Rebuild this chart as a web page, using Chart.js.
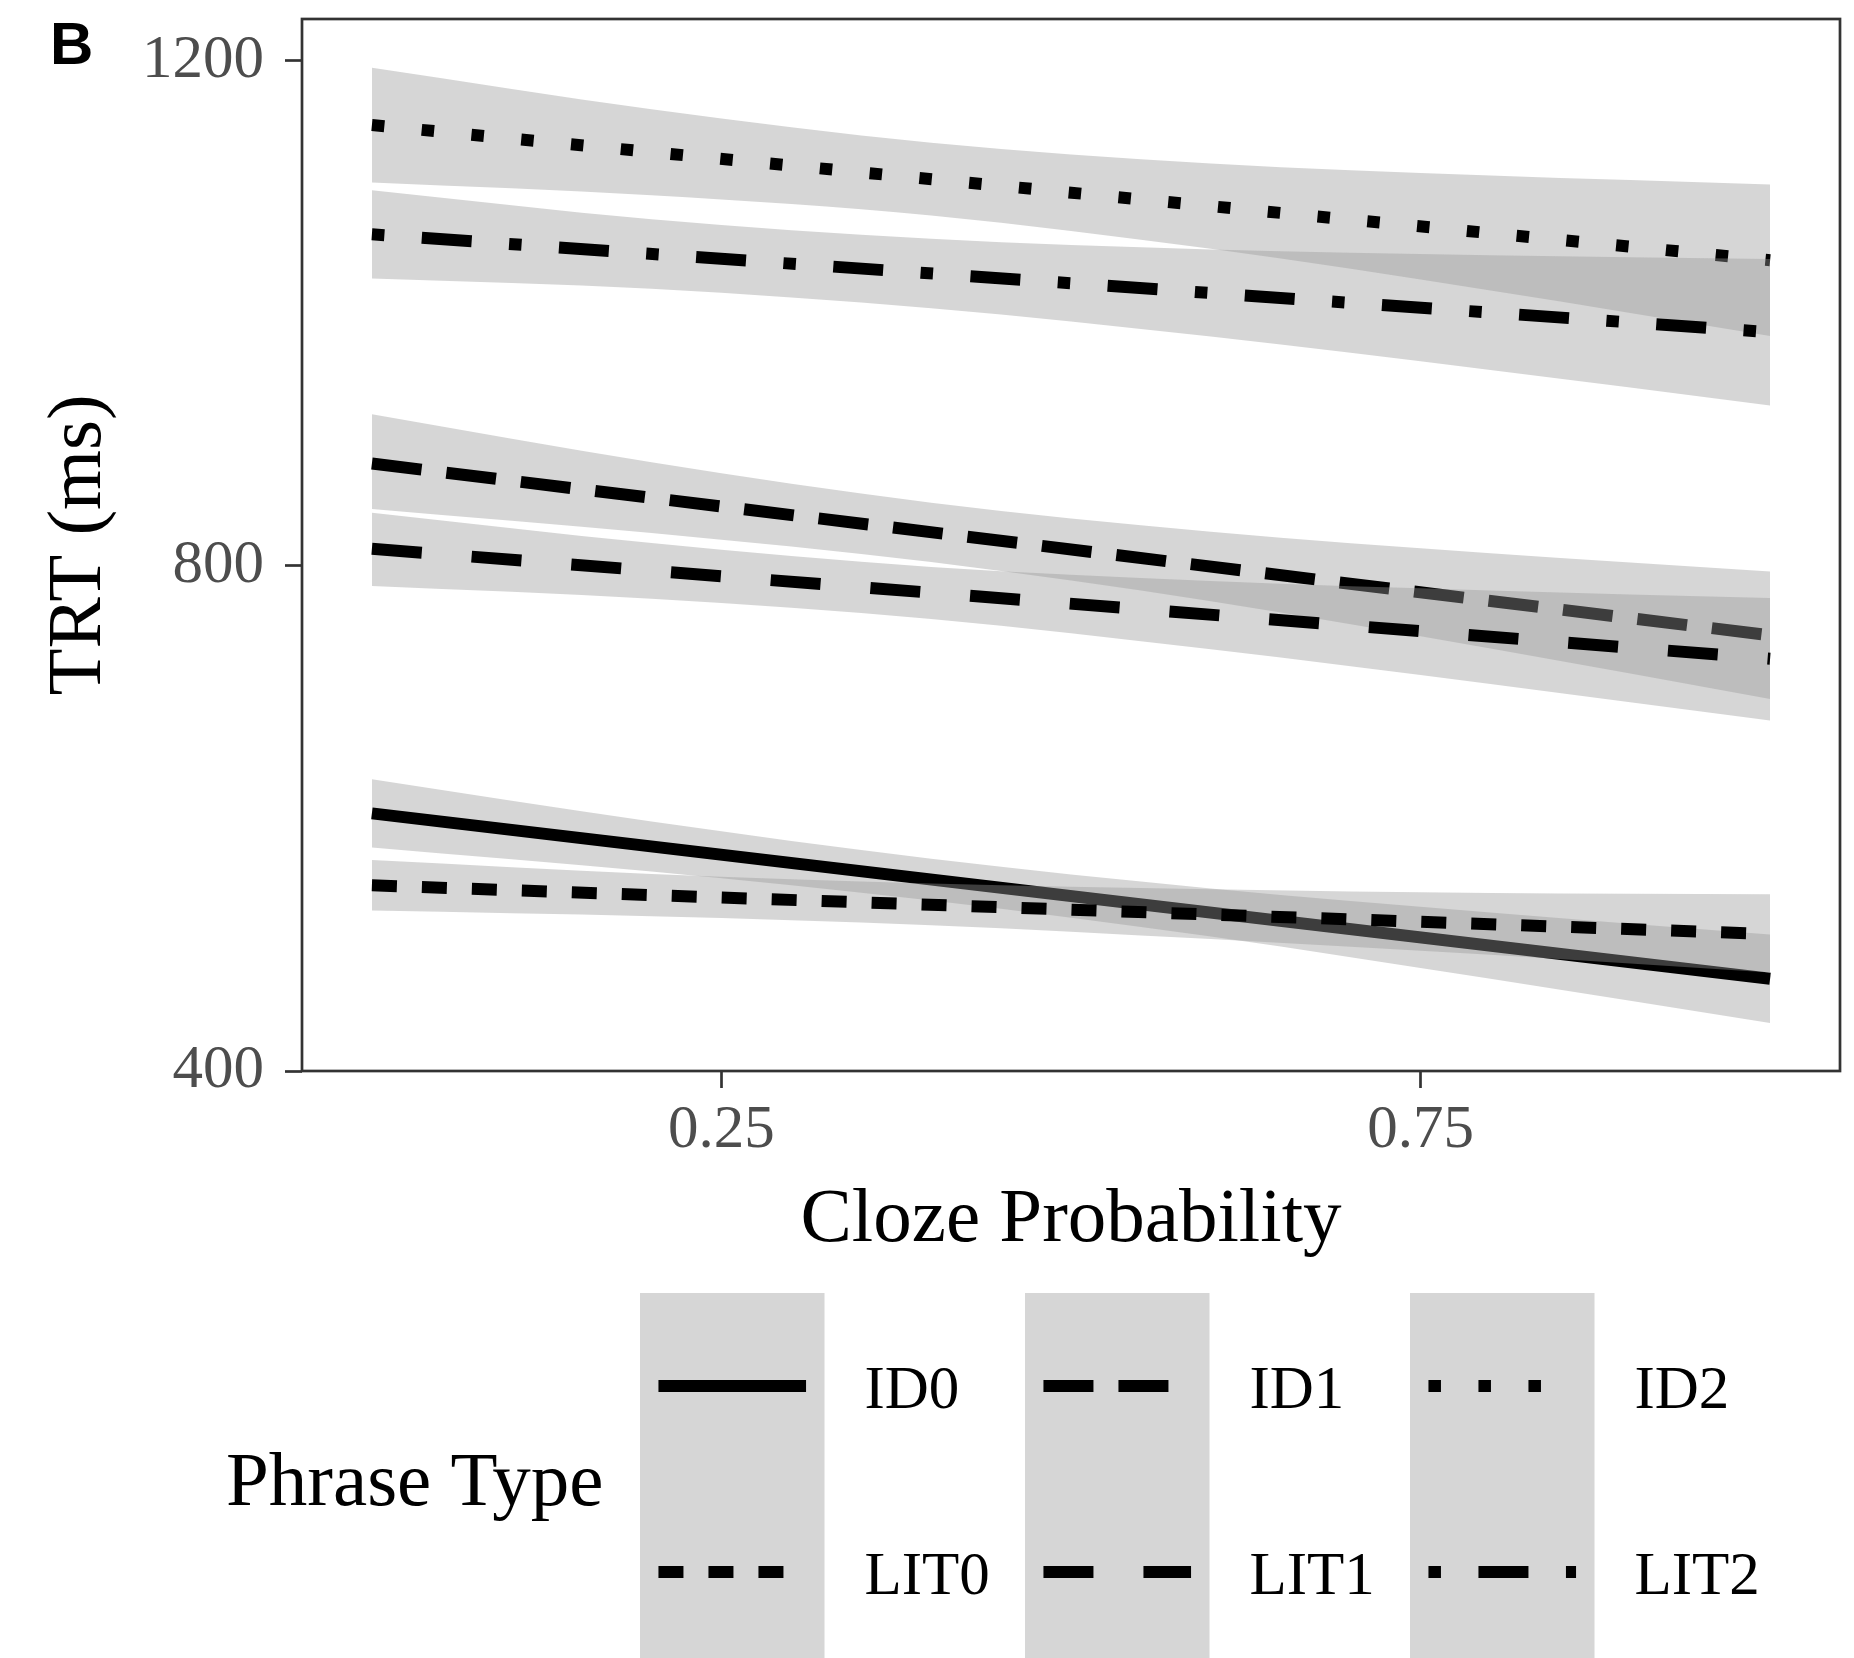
<!DOCTYPE html>
<html>
<head>
<meta charset="utf-8">
<script src="https://cdn.jsdelivr.net/npm/chart.js@4.4.1/dist/chart.umd.min.js"></script>
<style>
  html, body { margin: 0; padding: 0; background: #ffffff; }
  #wrap { width: 1854px; height: 1658px; position: relative; }
</style>
</head>
<body>
<div id="wrap"><canvas id="c" width="1854" height="1658"></canvas></div>
<script>
// ---------------- data ----------------
const groups = ['ID0', 'ID1', 'ID2', 'LIT0', 'LIT1', 'LIT2'];

// x positions of the confidence-band samples and of the fitted lines
const bandX = [0, 0.2, 0.4, 0.6, 0.8, 1];
const lineX = [0, 1];

// fitted lines (TRT in ms at cloze 0 and 1)
const fitID0 = [604, 473];
const fitID1 = [881, 745];
const fitID2 = [1149, 1042];
const fitLIT0 = [547, 508.5];
const fitLIT1 = [813.5, 726.5];
const fitLIT2 = [1062.5, 985];

// confidence bands
const upperID0 = [631, 597.5, 568, 544.5, 525.5, 508];
const lowerID0 = [577, 558, 535, 506.5, 473, 438];
const upperID1 = [920, 882, 850, 827, 810, 795.5];
const lowerID1 = [845, 826, 803, 772, 734.5, 694.5];
const upperID2 = [1194.5, 1161.5, 1135, 1118.5, 1109, 1102];
const lowerID2 = [1103.5, 1093.5, 1077.5, 1051, 1018, 982];
const upperLIT0 = [567, 556, 548.5, 544, 541, 540];
const lowerLIT0 = [527, 522.5, 515.5, 504.5, 492, 478];
const upperLIT1 = [842, 818, 799, 788, 780.5, 774.5];
const lowerLIT1 = [784, 774, 758, 734, 706.5, 677.5];
const upperLIT2 = [1097.5, 1074.5, 1059, 1050.5, 1046, 1043];
const lowerLIT2 = [1027.5, 1019.5, 1004, 981.5, 955, 927];

// axis ticks
const xTickValues = [0.25, 0.75];
const xTickLabels = ['0.25', '0.75'];
const yTickValues = [400, 800, 1200];
const yTickLabels = ['400', '800', '1200'];

// ---------------- styles ----------------
const U = 12.5; // ggplot dash unit (= line width)
const dashes = {
  ID0: [],
  ID1: [4 * U, 2 * U],
  ID2: [1 * U, 3 * U],
  LIT0: [2 * U, 2 * U],
  LIT1: [4 * U, 4 * U],
  LIT2: [1 * U, 3 * U, 4 * U, 3 * U]
};
const fits = { ID0: fitID0, ID1: fitID1, ID2: fitID2, LIT0: fitLIT0, LIT1: fitLIT1, LIT2: fitLIT2 };
const uppers = { ID0: upperID0, ID1: upperID1, ID2: upperID2, LIT0: upperLIT0, LIT1: upperLIT1, LIT2: upperLIT2 };
const lowers = { ID0: lowerID0, ID1: lowerID1, ID2: lowerID2, LIT0: lowerLIT0, LIT1: lowerLIT1, LIT2: lowerLIT2 };

const BAND = 'rgba(153,153,153,0.4)';
const SERIF = "'Liberation Serif', 'Times New Roman', serif";
const LW = 12;

const datasets = [];
groups.forEach(g => {
  datasets.push({
    label: g + ' lower',
    data: bandX.map((x, k) => ({ x: x, y: lowers[g][k] })),
    borderWidth: 0, borderColor: 'rgba(0,0,0,0)', backgroundColor: BAND,
    pointRadius: 0, fill: false, cubicInterpolationMode: 'monotone'
  });
  datasets.push({
    label: g + ' upper',
    data: bandX.map((x, k) => ({ x: x, y: uppers[g][k] })),
    borderWidth: 0, borderColor: 'rgba(0,0,0,0)', backgroundColor: BAND,
    pointRadius: 0, fill: '-1', cubicInterpolationMode: 'monotone'
  });
  datasets.push({
    label: g,
    data: lineX.map((x, k) => ({ x: x, y: fits[g][k] })),
    borderWidth: LW, borderColor: '#000000', borderDash: dashes[g],
    borderCapStyle: 'butt', pointRadius: 0, fill: false, tension: 0
  });
});
datasets.forEach((d, i) => { d.order = datasets.length - i; });

// ---------------- custom plugin: panel border, panel tag, legend ----------------
const decor = {
  id: 'decor',
  afterDraw(chart) {
    const ctx = chart.ctx;
    const a = chart.chartArea;
    ctx.save();
    // panel border
    ctx.strokeStyle = '#333333';
    ctx.lineWidth = 2.7;
    ctx.strokeRect(a.left, a.top, a.right - a.left, a.bottom - a.top);
    // panel tag
    ctx.fillStyle = '#000000';
    ctx.font = "bold 60px 'Liberation Sans', Arial, sans-serif";
    ctx.textAlign = 'left';
    ctx.textBaseline = 'alphabetic';
    ctx.fillText('B', 50, 64);
    // legend
    const keyLeft = 640, keyW = 184.5, colStep = 385, keyTop = 1293, keyH = 186;
    ctx.font = '77px ' + SERIF;
    ctx.fillText('Phrase Type', 226, 1505);
    ctx.font = '61px ' + SERIF;
    groups.forEach((g, i) => {
      const col = i % 3;
      const row = i < 3 ? 0 : 1;
      const x0 = keyLeft + col * colStep;
      const y0 = keyTop + row * keyH;
      ctx.fillStyle = BAND;
      ctx.fillRect(x0, y0, keyW, keyH);
      const ly = y0 + keyH / 2;
      const ds = datasets.find(d => d.label === g);
      ctx.beginPath();
      ctx.setLineDash(ds.borderDash);
      ctx.lineDashOffset = 0;
      ctx.lineCap = 'butt';
      ctx.lineWidth = ds.borderWidth;
      ctx.strokeStyle = ds.borderColor;
      ctx.moveTo(x0 + 0.1 * keyW, ly);
      ctx.lineTo(x0 + 0.9 * keyW, ly);
      ctx.stroke();
      ctx.setLineDash([]);
      ctx.fillStyle = '#000000';
      ctx.fillText(g, x0 + keyW + 40, ly + 21.5);
    });
    ctx.restore();
  }
};

const tickFont = { family: SERIF, size: 61 };
const titleFont = { family: SERIF, size: 77 };

new Chart(document.getElementById('c'), {
  type: 'line',
  data: { datasets: datasets },
  options: {
    responsive: false,
    animation: false,
    events: [],
    layout: { padding: { left: 0, top: 19, right: 14, bottom: 387 } },
    plugins: { legend: { display: false }, tooltip: { enabled: false } },
    scales: {
      x: {
        type: 'linear',
        min: -0.05, max: 1.05,
        afterBuildTicks: s => { s.ticks = xTickValues.map(v => ({ value: v })); },
        afterFit: s => { s.height = 200; s.paddingLeft = 0; s.paddingRight = 0; },
        ticks: {
          font: tickFont, color: '#4d4d4d', padding: 6, maxRotation: 0, autoSkip: false,
          callback: (v) => { const k = xTickValues.indexOf(v); return k >= 0 ? xTickLabels[k] : ''; }
        },
        grid: { drawOnChartArea: false, drawTicks: true, tickLength: 17, tickWidth: 2.7, tickColor: '#333333', color: '#333333' },
        border: { display: false },
        title: { display: true, text: 'Cloze Probability', font: titleFont, color: '#000000', padding: { top: 0, bottom: 4 } }
      },
      y: {
        type: 'linear',
        min: 400, max: 1233,
        afterBuildTicks: s => { s.ticks = yTickValues.map(v => ({ value: v })); },
        afterFit: s => { s.width = 302; s.paddingTop = 0; s.paddingBottom = 0; },
        ticks: {
          font: tickFont, color: '#4d4d4d', padding: 21, autoSkip: false,
          callback: (v) => { const k = yTickValues.indexOf(v); return k >= 0 ? yTickLabels[k] : ''; }
        },
        grid: { drawOnChartArea: false, drawTicks: true, tickLength: 17, tickWidth: 2.7, tickColor: '#333333', color: '#333333' },
        border: { display: false },
        title: { display: true, text: 'TRT (ms)', font: titleFont, color: '#000000', padding: { top: 34, bottom: 0 } }
      }
    }
  },
  plugins: [decor]
});
</script>
</body>
</html>
